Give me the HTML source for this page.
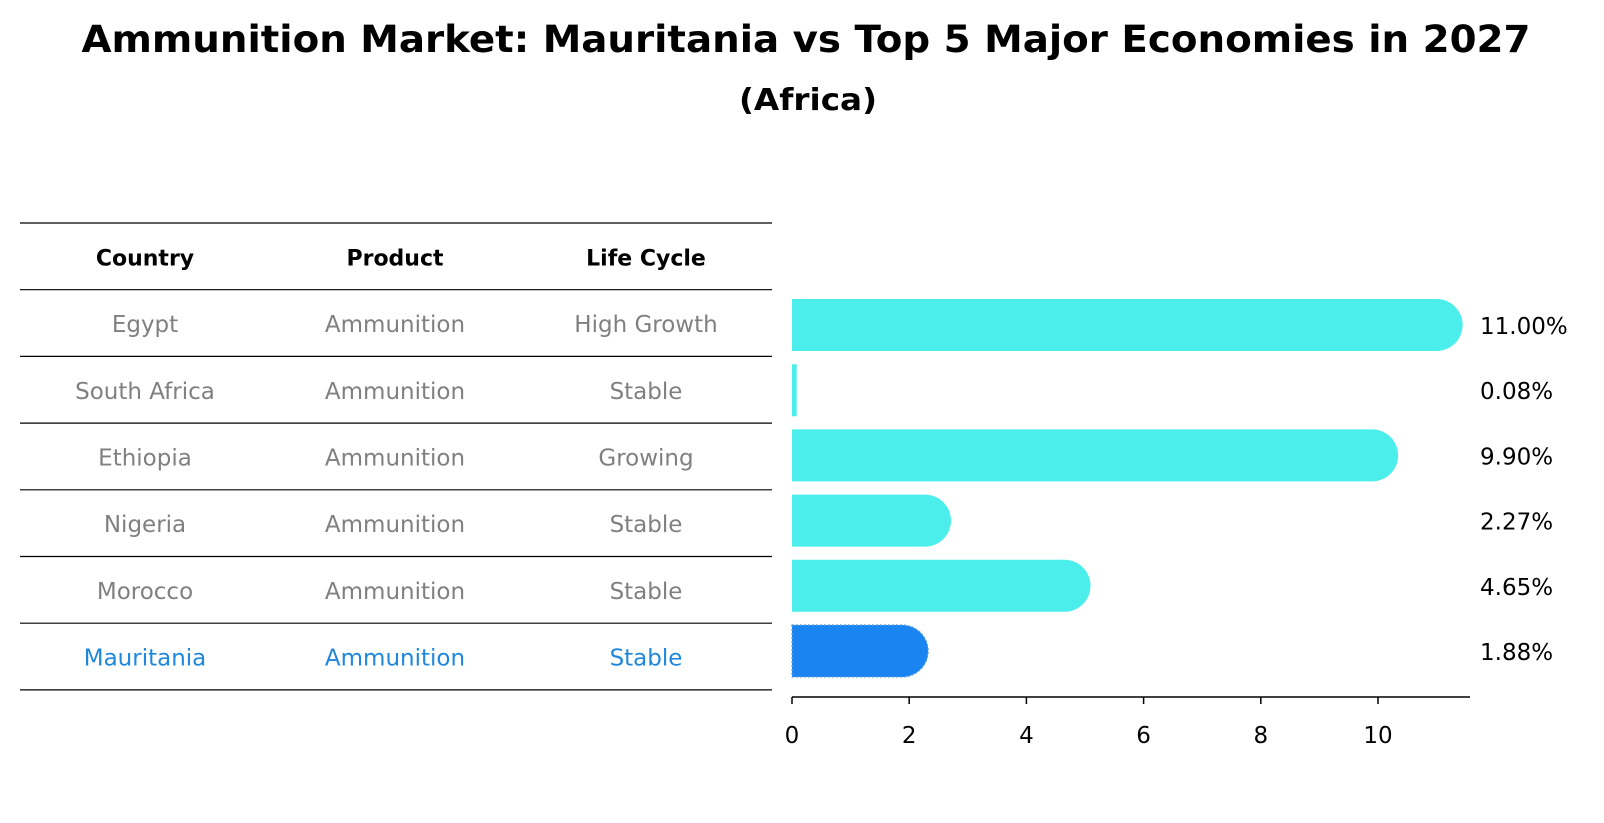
<!DOCTYPE html>
<html><head><meta charset="utf-8"><style>
html,body{margin:0;padding:0;background:#fff;}
svg{display:block;font-family:"DejaVu Sans","Liberation Sans",sans-serif;}
</style></head><body>
<svg id="chart" width="1604" height="823" viewBox="0 0 1604 823" xmlns="http://www.w3.org/2000/svg">
<text x="806" y="52" text-anchor="middle" font-weight="bold" font-size="37" textLength="1449" lengthAdjust="spacingAndGlyphs">Ammunition Market: Mauritania vs Top 5 Major Economies in 2027</text>
<text x="808" y="110" text-anchor="middle" font-weight="bold" font-size="30" textLength="138" lengthAdjust="spacingAndGlyphs">(Africa)</text>
<g id="table"></g>
<g id="bars"></g>
</svg>
<script>
const countries = ["Egypt","South Africa","Ethiopia","Nigeria","Morocco","Mauritania"];
const products = ["Ammunition","Ammunition","Ammunition","Ammunition","Ammunition","Ammunition"];
const lifeCycles = ["High Growth","Stable","Growing","Stable","Stable","Stable"];
const values = [11.00,0.08,9.90,2.27,4.65,1.88];
const valueLabels = ["11.00%","0.08%","9.90%","2.27%","4.65%","1.88%"];
const xTicks = [0,2,4,6,8,10];
const headers = ["Country","Product","Life Cycle"];

const NS="http://www.w3.org/2000/svg";
function mk(tag, attrs, parent){const e=document.createElementNS(NS,tag);for(const k in attrs)e.setAttribute(k,attrs[k]);parent.appendChild(e);return e;}
const x0=792, pxPerUnit=58.6;
function xScale(v){return x0+v*pxPerUnit;}
const barTop=325, barStep=65.2, barH=52;
function yScale(i){return barTop+i*barStep;}

// table
const tbl=document.getElementById('table');
const colX=[145,395,646];
const lineY0=223, rowH=66.7;
for(let i=0;i<=countries.length+1;i++){
  const ln=mk('line',{x1:20,x2:772,y1:lineY0+i*rowH,y2:lineY0+i*rowH,stroke:'#000','stroke-width':1.2},tbl);
  
  
}
headers.forEach((h,j)=>{
  const t=mk('text',{x:colX[j],y:lineY0+rowH/2+9,'text-anchor':'middle','font-weight':'bold','font-size':22},tbl);
  t.textContent=h;
  
  
});
countries.forEach((c,i)=>{
  const row=[c,products[i],lifeCycles[i]];
  const col=(i===countries.length-1)?'#1f88dc':'#808080';
  row.forEach((s,j)=>{
    const t=mk('text',{x:colX[j],y:lineY0+(i+1.5)*rowH+9,'text-anchor':'middle','font-size':23,fill:col},tbl);
    t.textContent=s;
    
    
  });
});

// bars
const g=document.getElementById('bars');
values.forEach((v,i)=>{
  const cy=yScale(i), top=cy-barH/2, r=barH/2;
  const w=xScale(v)-x0;
  const hl=(i===values.length-1);
  const fill=hl?'#1a85f0':'#4beeea';
  let d;
  if(w<r){ d=`M${x0},${top}h${w}v${barH}h${-w}Z`; }
  else { d=`M${x0},${top}H${x0+w}A${r},${r} 0 0 1 ${x0+w},${top+barH}H${x0}Z`; }
  const p=mk('path',{d:d,fill:fill},g);
  if(hl){p.setAttribute('stroke','#5a9fe0');p.setAttribute('stroke-width','1.2');p.setAttribute('stroke-dasharray','2,2');}
  
  
  const t=mk('text',{x:1480,y:cy+9,'font-size':23,fill:'#000'},g);
  t.textContent=valueLabels[i];
  
  
});
// axis
const ax=mk('line',{x1:x0,x2:1470,y1:697,y2:697,stroke:'#000','stroke-width':1.5},g);


xTicks.forEach(v=>{
  const tk=mk('line',{x1:xScale(v),x2:xScale(v),y1:697,y2:704,stroke:'#000','stroke-width':1.5},g);
  
  
  const t=mk('text',{x:xScale(v),y:743,'text-anchor':'middle','font-size':23},g);
  t.textContent=v;
  
  
});
</script>
</body></html>
